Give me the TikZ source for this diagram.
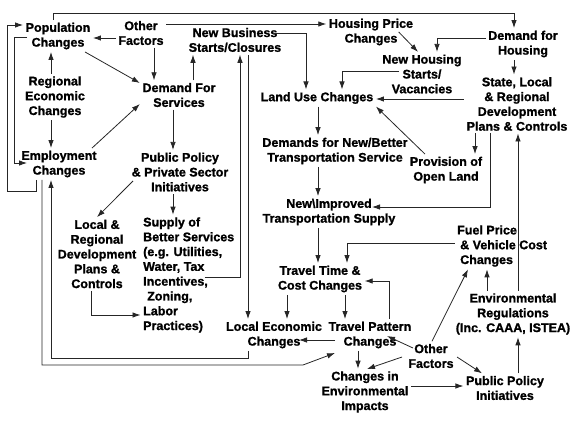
\documentclass[tikz,border=0pt]{standalone}
\usepackage{fontspec}
\setmainfont{Liberation Sans}[BoldFeatures={FakeBold=1.2}]
\usetikzlibrary{arrows.meta,calc}
\begin{document}
\begin{tikzpicture}[x=1pt,y=-1pt,
  lbl/.style={font=\fontsize{12.5}{14.8}\selectfont\bfseries, align=center, inner sep=2.5pt},
  arr/.style={draw=black!85, line width=0.8pt, -{Latex[length=8pt,width=5.5pt]}}]
\useasboundingbox (0,0) rectangle (579,424);
% nodes
\node[lbl] (PopCh) at (58,36) {Population\\Changes};
\node[lbl] (OF1) at (141,33) {Other\\Factors};
\node[lbl] (NBS) at (235,40) {New Business\\Starts/Closures};
\node[lbl] (HPC) at (371,32) {Housing Price\\Changes};
\node[lbl] (DfH) at (523,44) {Demand for\\Housing};
\node[lbl] (NHS) at (422,74) {New Housing\\Starts/\\Vacancies};
\node[lbl] (REC) at (55,97) {Regional\\Economic\\Changes};
\node[lbl] (DFS) at (179,95) {Demand For\\Services};
\node[lbl] (LUC) at (317,98) {Land Use Changes};
\node[lbl] (SLR) at (517,104) {State, Local\\\& Regional\\Development\\Plans \& Controls};
\node[lbl] (DNB) at (335,151) {Demands for New/Better\\Transportation Service};
\node[lbl] (EmpCh) at (59,164) {Employment\\Changes};
\node[lbl] (PPP) at (180,172) {Public Policy\\\& Private Sector\\Initiatives};
\node[lbl] (POL) at (446,170) {Provision of\\Open Land};
\node[lbl] (NIT) at (329,212) {New\textbackslash Improved\\Transportation Supply};
\node[lbl] (LRD) at (97,254) {Local \&\\Regional\\Development\\Plans \&\\Controls};
\node[lbl, align=left, anchor=west] (SBS) at (140.5,275) {Supply of\\Better Services\\(e.g. Utilities,\\Water, Tax\\Incentives,\\\hspace*{4pt}Zoning,\\Labor\\Practices)};
\node[lbl, align=left, anchor=west] (FPV) at (454.5,246) {Fuel Price\\\hspace*{3pt}\& Vehicle Cost\\\hspace*{3pt}Changes};
\node[lbl] (TTC) at (320,279) {Travel Time \&\\Cost Changes};
\node[lbl] (ER) at (513,314) {Environmental\\Regulations\\(Inc. CAAA, ISTEA)};
\node[lbl] (LEC) at (274,335) {Local Economic\\Changes};
\node[lbl] (TPC) at (370,335) {Travel Pattern\\Changes};
\node[lbl] (OF2) at (431,356) {Other\\Factors};
\node[lbl] (CEI) at (365,392) {Changes in\\Environmental\\Impacts};
\node[lbl] (PPI) at (505,388) {Public Policy\\Initiatives};
% connectors
\draw[arr] (OF1.west |- 0,38) -- (PopCh.east |- 0,38);
\draw[arr] (OF1.south -| 154,0) -- (DFS.north -| 154,0);
\draw[arr] (PopCh.south -| 85,0) -- (DFS.west |- 0,83);
\draw[arr] (REC.north -| 51,0) -- (PopCh.south -| 51,0);
\draw[arr] (REC.south -| 51,0) -- (EmpCh.north -| 51,0);
\draw[arr] (EmpCh.north -| 92,0) -- (DFS.west |- 0,104);
\draw[arr] (DFS.north -| 193,0) -- (NBS.south -| 193,0);
\draw[arr] (DFS.south -| 173,0) -- (PPP.north -| 173,0);
\draw[arr] ($(PPP.west)+(4,9)$) -- (LRD.north);
\draw[arr] (PPP.south -| 173,0) -- (SBS.north -| 173,0);
\draw[arr] (LRD.south -| 91,0) |- (SBS.west |- 0,315);
\draw[arr] ($(SBS.west)+(64,2)$) -| (NBS.south -| 240,0);
\draw[arr] (NBS.south -| 248,0) -- (LEC.north -| 248,0);
\draw[arr] ($(NBS.east)+(-11,-7)$) -| (LUC.north -| 306,0);
\draw[arr] (PopCh.north -| 53,0) |- (514,13) -- (DfH.north -| 514,0);
\draw[arr] (OF1.east |- 0,24) -- (HPC.west |- 0,24);
\draw[arr] ($(HPC.east)+(-17,0)$) -- ($(NHS.north)+(-4,0)$);
\draw[arr] (DfH.west |- 0,38) -| (NHS.north -| 437,0);
\draw[arr] (DfH.south -| 514,0) -- (SLR.north -| 514,0);
\draw[arr] ($(NHS.center)+(-23,-3)$) -| (LUC.north -| 342,0);
\draw[arr] (SLR.west |- 0,99) -- (LUC.east |- 0,99);
\draw[arr] (POL.north -| 425,0) -- (LUC.south east);
\draw[arr] (SLR.south -| 475,0) -- (POL.north -| 475,0);
\draw[arr] (SLR.south -| 490,0) |- ($(NIT.center)+(43,-5)$);
\draw[arr] (ER.north -| 518,0) -- (SLR.south -| 518,0);
\draw[arr] (ER.north -| 487,0) -- (FPV.south -| 487,0);
\draw[arr] (OF2.north -| 432,0) -- (FPV.south -| 468,0);
\draw[arr] (FPV.west |- 0,243) -| (TTC.north -| 347,0);
\draw[arr] (NIT.south -| 318,0) -- (TTC.north -| 318,0);
\draw[arr] (DNB.south -| 318,0) -- (NIT.north -| 318,0);
\draw[arr] (LUC.south -| 318,0) -- (DNB.north -| 318,0);
\draw[arr] (TTC.south -| 287,0) -- (LEC.north -| 287,0);
\draw[arr] (TTC.south -| 345,0) -- (TPC.north -| 345,0);
\draw[arr] (TPC.north -| 389,0) |- (TTC.east |- 0,281);
\draw[arr] ($(TPC.center)+(-35,5)$) -- ($(LEC.center)+(25,5)$);
\draw[arr] ($(OF2.center)+(-18,-8)$) -- ($(TPC.center)+(17,1)$);
\draw[arr] ($(OF2.center)+(-29,1)$) -- ($(CEI.center)+(2,-23)$);
\draw[arr] (TPC.south -| 358,0) -- (CEI.north -| 358,0);
\draw[arr] ($(OF2.center)+(26,1)$) -- (PPI.north -| 482,0);
\draw[arr] (CEI.east |- 0,386) -- (PPI.west |- 0,386);
\draw[arr] (PPI.north -| 518,0) -- (ER.south -| 518,0);
\draw[arr] (EmpCh.south -| 36,0) |- (7,191) |- (PopCh.west |- 0,25);
\draw[arr] ($(PopCh.center)+(-31,1)$) -| (14,163) -- ($(EmpCh.center)+(-32,-1)$);
\draw[arr] (LEC.south -| 248,0) |- (51,358) -- (EmpCh.south -| 51,0);
\draw[arr] (EmpCh.south -| 42,0) |- (303,365) -- ($(TPC.center)+(-35,18)$);
\end{tikzpicture}
\end{document}
